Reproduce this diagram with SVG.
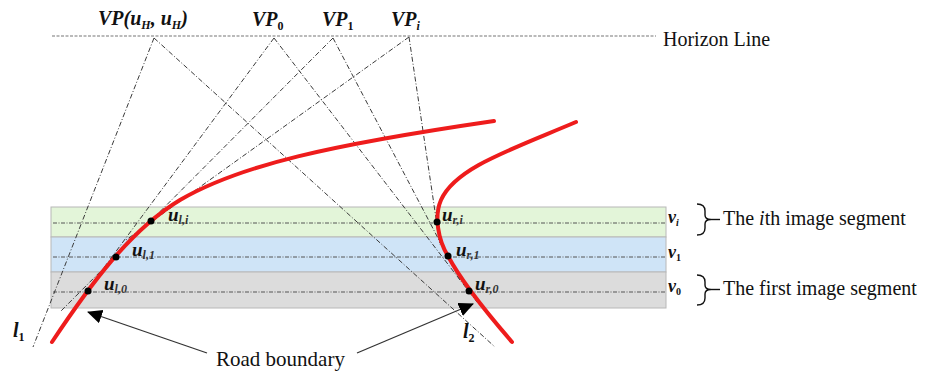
<svg xmlns="http://www.w3.org/2000/svg" width="935" height="371" viewBox="0 0 935 371">
<defs>
<marker id="ah" markerUnits="userSpaceOnUse" markerWidth="16" markerHeight="16" refX="14" refY="7" orient="auto">
<path d="M0,0 L15,7 L0,14 z" fill="#000"/>
</marker>
<style>
.band{stroke:#b8b8b8;stroke-width:1}
.seg{stroke:#555;stroke-width:1;stroke-dasharray:4 1.5 1 1.5;fill:none}
.hz{stroke:#777;stroke-width:1.2;stroke-dasharray:3 1.5;fill:none}
.vl{stroke:#3a3a3a;stroke-width:1;stroke-dasharray:5 2 1 2;fill:none}
.road{stroke:#ee1c1c;stroke-width:4;fill:none;stroke-linecap:round}
.dot{fill:#000}
.t{font-family:"Liberation Serif","Times New Roman",serif;fill:#111}
.m{font-family:"Liberation Serif","Times New Roman",serif;font-style:italic;font-weight:bold;fill:#111}
.sub{font-size:12px;font-style:normal}
.subi{font-size:12px;font-style:italic}
.us{font-size:12px;font-style:italic;fill:#333}
.vs{font-size:10px}
.arr{stroke:#333;stroke-width:1.3;fill:none}
.br{stroke:#111;stroke-width:1.4;fill:none}
</style>
</defs>
<rect width="935" height="371" fill="#fff"/>

<g id="bands">
<rect class="band" x="51" y="207" width="615" height="30" fill="#e3f5d9"/>
<rect class="band" x="51" y="237" width="615" height="35" fill="#cfe4f7"/>
<rect class="band" x="51" y="272" width="615" height="36" fill="#dcdcdc"/>
<line class="seg" x1="53" y1="223" x2="665" y2="223"/>
<line class="seg" x1="53" y1="257" x2="665" y2="257"/>
<line class="seg" x1="53" y1="292" x2="665" y2="292"/>
</g>

<g id="horizon">
<line class="hz" x1="52" y1="36" x2="656" y2="36"/>
<text class="t" x="663" y="46" font-size="20">Horizon Line</text>
</g>

<g id="connectors">
<line class="vl" x1="154" y1="38" x2="33" y2="347"/>
<line class="vl" x1="154" y1="38" x2="495" y2="347"/>
<line class="vl" x1="274" y1="38" x2="80" y2="300"/>
<line class="vl" x1="274" y1="38" x2="477" y2="302"/>
<line class="vl" x1="333" y1="38" x2="60" y2="312"/>
<line class="vl" x1="333" y1="38" x2="460" y2="280"/>
<line class="vl" x1="409" y1="37" x2="126" y2="240"/>
<line class="vl" x1="409" y1="37" x2="440" y2="245"/>
<line class="arr" x1="207" y1="353" x2="88" y2="312" marker-end="url(#ah)"/>
<line class="arr" x1="357" y1="353" x2="473" y2="304" marker-end="url(#ah)"/>
</g>

<g id="left-boundary">
<path class="road" d="M52,342 C90,285 130,230 180,200 C240,165 330,145 494,121"/>
</g>
<g id="right-boundary">
<path class="road" d="M576,122 C510,150 455,168 441,200 C434,216 438,240 448,256 C458,275 480,305 512,342"/>
</g>

<g id="points">
<circle class="dot" cx="151" cy="221" r="3.5"/>
<circle class="dot" cx="116" cy="257" r="3.5"/>
<circle class="dot" cx="88" cy="291" r="3.5"/>
<circle class="dot" cx="437" cy="222" r="3.5"/>
<circle class="dot" cx="448" cy="256" r="3.5"/>
<circle class="dot" cx="469" cy="291" r="3.5"/>
<text class="m" x="168" y="221" font-size="19">u<tspan class="us" dy="3">l,i</tspan></text>
<text class="m" x="132" y="256" font-size="19">u<tspan class="us" dy="3">l,1</tspan></text>
<text class="m" x="104" y="290" font-size="19">u<tspan class="us" dy="3">l,0</tspan></text>
<text class="m" x="442" y="221" font-size="19">u<tspan class="us" dy="3">r,i</tspan></text>
<text class="m" x="456" y="256" font-size="19">u<tspan class="us" dy="3">r,1</tspan></text>
<text class="m" x="475" y="290" font-size="19">u<tspan class="us" dy="3">r,0</tspan></text>
</g>

<g id="vp-labels">
<text class="m" x="98" y="25" font-size="20">VP(u<tspan class="subi" dy="4">H</tspan><tspan dy="-4">, u</tspan><tspan class="subi" dy="4">H</tspan><tspan dy="-4">)</tspan></text>
<text class="m" x="252" y="26" font-size="20">VP<tspan class="sub" dy="4">0</tspan></text>
<text class="m" x="322" y="26" font-size="20">VP<tspan class="sub" dy="4">1</tspan></text>
<text class="m" x="391" y="26" font-size="20">VP<tspan class="subi" dy="4">i</tspan></text>
</g>

<g id="line-labels">
<text class="m" x="13" y="337" font-size="20">l<tspan class="sub" dy="4">1</tspan></text>
<text class="m" x="463" y="338" font-size="20">l<tspan class="sub" dy="4">2</tspan></text>
</g>

<g id="v-labels">
<text class="m" x="668" y="223" font-size="18">v<tspan class="vs" dy="3">i</tspan></text>
<text class="m" x="668" y="258" font-size="18">v<tspan class="vs" dy="3" font-style="normal" style="font-style:normal">1</tspan></text>
<text class="m" x="668" y="292" font-size="18">v<tspan class="vs" dy="3" style="font-style:normal">0</tspan></text>
</g>

<g id="segment-ith">
<path class="br" d="M697,204 Q705,204 705,211 L705,215 Q705,219.5 711,219.5 Q705,219.5 705,224 L705,228 Q705,235 697,235"/>
<line class="br" x1="711" y1="219.5" x2="720" y2="219.5"/>
<text class="t" x="723" y="225" font-size="20">The <tspan font-style="italic">i</tspan>th image segment</text>
</g>

<g id="segment-first">
<path class="br" d="M697,275 Q705,275 705,282 L705,285 Q705,289.5 711,289.5 Q705,289.5 705,294 L705,298 Q705,305 697,305"/>
<line class="br" x1="711" y1="289.5" x2="720" y2="289.5"/>
<text class="t" x="723" y="295" font-size="20">The first image segment</text>
</g>

<g id="road-boundary-label">
<text class="t" x="216" y="366" font-size="21">Road boundary</text>
</g>
</svg>
